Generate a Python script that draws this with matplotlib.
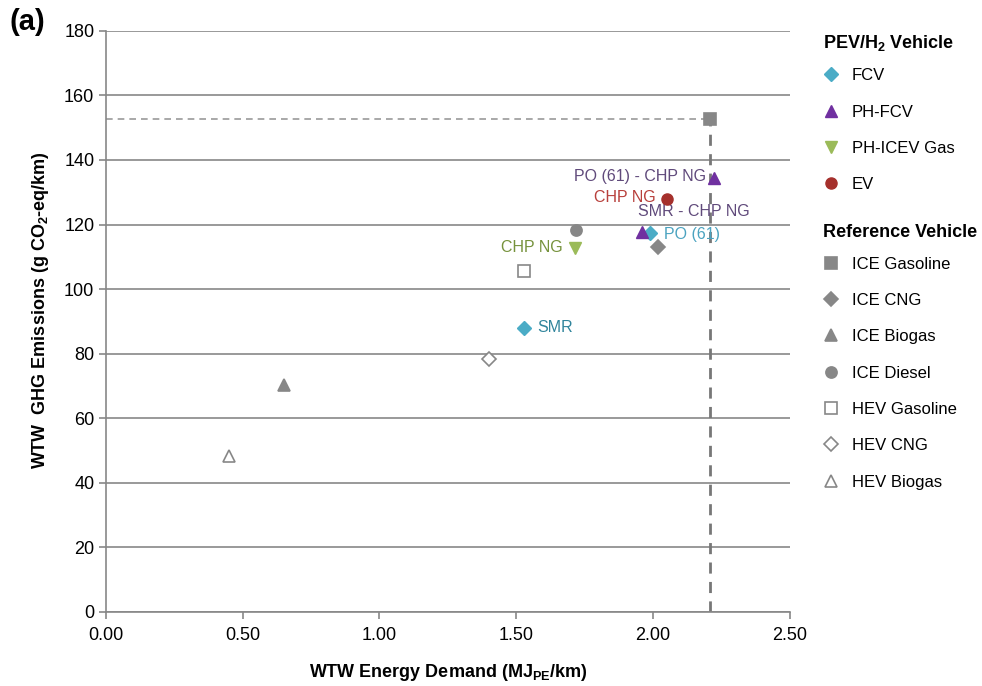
import matplotlib.pyplot as plt
from matplotlib.lines import Line2D

plt.rcParams['font.family'] = ['Liberation Sans', 'DejaVu Sans']
plt.rcParams['mathtext.default'] = 'regular'

# PEV / H2 vehicles
fcv_x = [1.53, 1.99]
fcv_y = [88.0, 117.4]
fcv_lbl = ["SMR", "PO (61)"]

phfcv_x = [1.96, 2.225]
phfcv_y = [117.8, 134.5]
phfcv_lbl = ["SMR - CHP NG", "PO (61) - CHP NG"]

phice_x = [1.715]
phice_y = [112.6]
phice_lbl = ["CHP NG"]

ev_x = [2.05]
ev_y = [127.9]
ev_lbl = ["CHP NG"]

# reference vehicles
ref_names = ["ICE Gasoline", "ICE CNG", "ICE Biogas", "ICE Diesel",
             "HEV Gasoline", "HEV CNG", "HEV Biogas"]
ref_x = [2.21, 2.02, 0.65, 1.72, 1.53, 1.40, 0.45]
ref_y = [152.7, 113.2, 70.3, 118.3, 105.6, 78.2, 48.2]
ref_mk = ["s", "D", "^", "o", "s", "D", "^"]
ref_fill = [True, True, True, True, False, False, False]

gas_x = 2.21
gas_y = 152.7

grey = "#878787"
c_fcv = "#4BACC6"
c_phfcv = "#7030A0"
c_phice = "#9BBB59"
c_ev = "#A5302C"

fig = plt.figure(figsize=(9.82, 6.86), dpi=100)
ax = fig.add_axes([0.108, 0.108, 0.696, 0.847])

ax.set_xlim(0, 2.5)
ax.set_ylim(0, 180)
ax.set_xticks([0, 0.5, 1.0, 1.5, 2.0, 2.5])
ax.set_xticklabels(["%.2f" % v for v in [0, 0.5, 1.0, 1.5, 2.0, 2.5]])
ax.set_yticks(range(0, 181, 20))
ax.yaxis.grid(True, color=grey, linewidth=1.2)
ax.set_axisbelow(True)
for s in ["top", "right"]:
    ax.spines[s].set_visible(False)
for s in ["left", "bottom"]:
    ax.spines[s].set_color(grey)
    ax.spines[s].set_linewidth(1.2)
ax.tick_params(colors=grey, labelcolor="black", labelsize=13, length=5, width=1.2)
ax.tick_params(axis="x", pad=6)

# dashed guide lines to ICE gasoline
ax.plot([0, gas_x], [gas_y, gas_y], ls=(0, (4, 3)), color="#9a9a9a", lw=1.2, zorder=2)
ax.plot([gas_x, gas_x], [0, gas_y], ls=(0, (4, 3)), color="#777777", lw=2, zorder=2)

for x, y, m, f in zip(ref_x, ref_y, ref_mk, ref_fill):
    ms = 8 if m != "D" else 7
    ax.plot(x, y, m, ms=ms, color=grey, mfc=grey if f else "white",
            mec=grey, mew=1.2, zorder=3)

ax.plot(fcv_x, fcv_y, "D", ms=7, color=c_fcv, ls="none", zorder=4)
ax.plot(phfcv_x, phfcv_y, "^", ms=8, color=c_phfcv, ls="none", zorder=4)
ax.plot(phice_x, phice_y, "v", ms=9, color=c_phice, ls="none", zorder=4)
ax.plot(ev_x, ev_y, "o", ms=8, color=c_ev, ls="none", zorder=4)

fs = 11.5
ax.annotate(fcv_lbl[0], (fcv_x[0], fcv_y[0]), xytext=(9, 0), textcoords="offset points",
            va="center", ha="left", fontsize=fs, color="#31859C")
ax.annotate(fcv_lbl[1], (fcv_x[1], fcv_y[1]), xytext=(10, -1), textcoords="offset points",
            va="center", ha="left", fontsize=fs, color="#4BA3C0")
ax.annotate(phfcv_lbl[0], (phfcv_x[0], phfcv_y[0]), xytext=(-3, 9), textcoords="offset points",
            va="bottom", ha="left", fontsize=fs, color="#604A7B")
ax.annotate(phfcv_lbl[1], (phfcv_x[1], phfcv_y[1]), xytext=(-6, 1), textcoords="offset points",
            va="center", ha="right", fontsize=fs, color="#604A7B")
ax.annotate(phice_lbl[0], (phice_x[0], phice_y[0]), xytext=(-9, 1), textcoords="offset points",
            va="center", ha="right", fontsize=fs, color="#76923C")
ax.annotate(ev_lbl[0], (ev_x[0], ev_y[0]), xytext=(-8, 1), textcoords="offset points",
            va="center", ha="right", fontsize=fs, color="#B8403C")

ax.set_xlabel("WTW Energy Demand (MJ$_{PE}$/km)", fontsize=13, fontweight="bold", labelpad=13)
ax.set_ylabel("WTW  GHG Emissions (g CO$_2$-eq/km)", fontsize=13, fontweight="bold")
ax.yaxis.set_label_coords(-0.080, 0.52)

fig.text(0.010, 0.968, "(a)", fontsize=21, fontweight="bold", va="center")

# legends
h1 = [Line2D([], [], marker="D", ms=7, color=c_fcv, ls="none"),
      Line2D([], [], marker="^", ms=8, color=c_phfcv, ls="none"),
      Line2D([], [], marker="v", ms=9, color=c_phice, ls="none"),
      Line2D([], [], marker="o", ms=8, color=c_ev, ls="none")]
l1 = ["FCV", "PH-FCV", "PH-ICEV Gas", "EV"]
leg_kw = dict(loc="upper left", alignment="left", frameon=False, fontsize=12,
              labelspacing=1.28, handlelength=1.0, handletextpad=0.75,
              borderpad=0, borderaxespad=0)
leg1 = fig.legend(h1, l1, bbox_to_anchor=(0.838, 0.952),
                  title="PEV/H$_2$ Vehicle", **leg_kw)
leg1.get_title().set_fontweight("bold")
leg1.get_title().set_fontsize(13)
leg1._legend_box.sep = 11

h2 = []
for m, f in zip(ref_mk, ref_fill):
    h2.append(Line2D([], [], marker=m, ms=7 if m == "D" else 8, color=grey,
                     mfc=grey if f else "white", mec=grey, mew=1.2, ls="none"))
leg2 = fig.legend(h2, ref_names, bbox_to_anchor=(0.838, 0.673),
                  title="Reference Vehicle", **leg_kw)
leg2.get_title().set_fontweight("bold")
leg2.get_title().set_fontsize(13)
leg2._legend_box.sep = 11

fig.savefig("out.png", dpi=100)
